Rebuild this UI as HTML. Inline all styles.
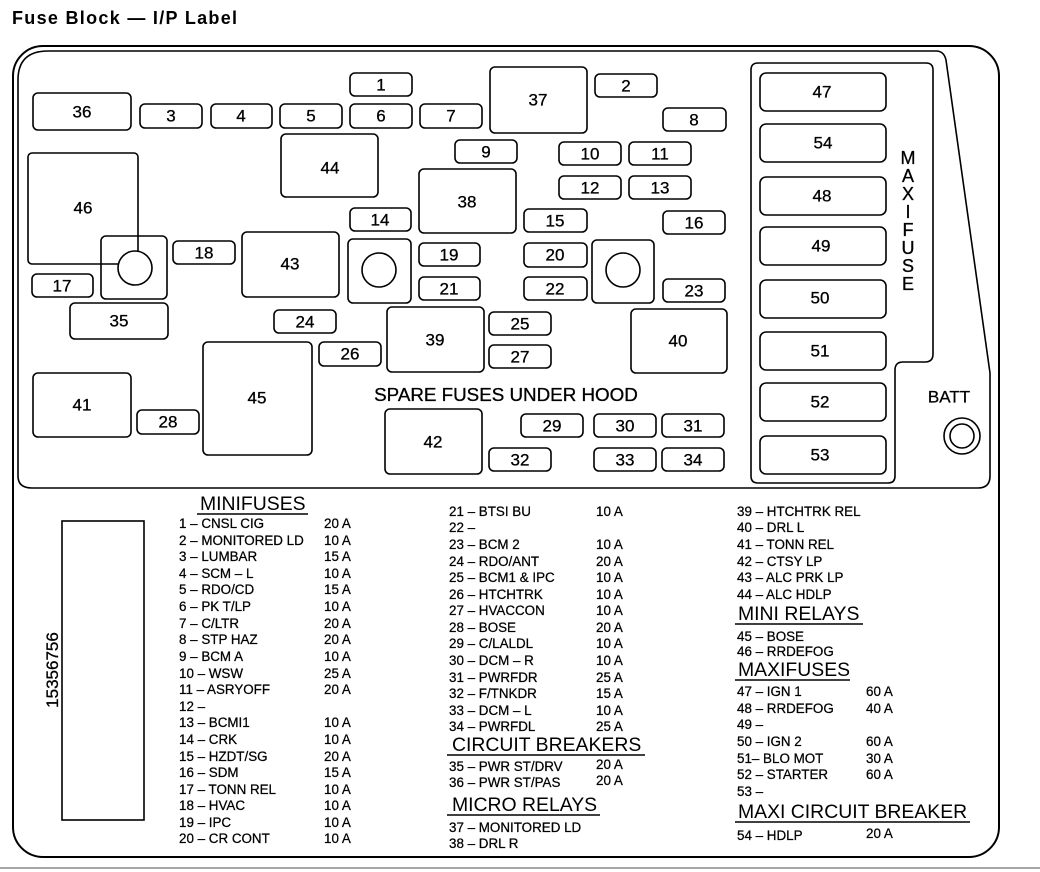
<!DOCTYPE html>
<html><head><meta charset="utf-8"><style>
html,body{margin:0;padding:0;background:#fff;}
svg{display:block;font-family:"Liberation Sans",Arial,sans-serif;}
.b{fill:#fff;stroke:#000;stroke-width:1.6;}
.n{font-size:17px;text-anchor:middle;dominant-baseline:central;stroke:#000;stroke-width:0.3;}
.l{font-size:13.4px;stroke:#000;stroke-width:0.25;}
.h{font-size:19.4px;}
</style></head><body>
<svg width="1040" height="872" viewBox="0 0 1040 872" xmlns="http://www.w3.org/2000/svg">
<text x="12" y="24" font-size="18" font-weight="bold" letter-spacing="1.3">Fuse Block — I/P Label</text>
<rect x="13" y="46" width="986" height="811" rx="30" fill="none" stroke="#000" stroke-width="2"/>
<path d="M18,476 L18,80 Q18,51 48,51 L936,51 Q944,51 946,60 L990,373 L990,476 Q990,488 978,488 L32,488 Q18,488 18,476 Z" fill="none" stroke="#000" stroke-width="1.6"/>
<line x1="0" y1="868" x2="1040" y2="868" stroke="#888" stroke-width="1.5"/>
<g class="b">
<rect x="33" y="93" width="98" height="37" rx="5"/>
<rect x="140" y="104" width="62" height="24" rx="5"/>
<rect x="211" y="104" width="61" height="24" rx="5"/>
<rect x="280" y="104" width="62" height="24" rx="5"/>
<rect x="350" y="104" width="62" height="24" rx="5"/>
<rect x="350" y="73" width="62" height="23" rx="5"/>
<rect x="420" y="104" width="62" height="24" rx="5"/>
<rect x="281" y="134" width="97" height="63" rx="5"/>
<rect x="101" y="236" width="66" height="63" rx="5"/>
<rect x="28" y="153" width="110" height="111" rx="4" fill="none"/>
<rect x="32" y="274" width="61" height="23" rx="5"/>
<rect x="70" y="303" width="98" height="36" rx="5"/>
<rect x="173" y="241" width="62" height="23" rx="5"/>
<rect x="242" y="232" width="97" height="65" rx="5"/>
<rect x="350" y="208" width="61" height="23" rx="5"/>
<rect x="455" y="140" width="62" height="23" rx="5"/>
<rect x="419" y="169" width="97" height="64" rx="5"/>
<rect x="348" y="239" width="63" height="64" rx="5"/>
<rect x="419" y="243" width="61" height="23" rx="5"/>
<rect x="419" y="277" width="61" height="23" rx="5"/>
<rect x="274" y="310" width="62" height="23" rx="5"/>
<rect x="387" y="307" width="97" height="65" rx="5"/>
<rect x="489" y="312" width="62" height="23" rx="5"/>
<rect x="489" y="345" width="62" height="23" rx="5"/>
<rect x="319" y="342" width="62" height="24" rx="5"/>
<rect x="203" y="342" width="109" height="113" rx="5"/>
<rect x="33" y="373" width="98" height="64" rx="5"/>
<rect x="137" y="410" width="62" height="24" rx="5"/>
<rect x="490" y="67" width="97" height="66" rx="5"/>
<rect x="595" y="74" width="62" height="23" rx="5"/>
<rect x="663" y="108" width="63" height="23" rx="5"/>
<rect x="559" y="142" width="62" height="23" rx="5"/>
<rect x="629" y="142" width="62" height="23" rx="5"/>
<rect x="559" y="176" width="62" height="23" rx="5"/>
<rect x="629" y="176" width="62" height="23" rx="5"/>
<rect x="524" y="209" width="63" height="23" rx="5"/>
<rect x="663" y="211" width="62" height="23" rx="5"/>
<rect x="524" y="243" width="63" height="24" rx="5"/>
<rect x="524" y="277" width="63" height="23" rx="5"/>
<rect x="592" y="240" width="62" height="63" rx="5"/>
<rect x="663" y="279" width="62" height="23" rx="5"/>
<rect x="631" y="309" width="96" height="64" rx="5"/>
<rect x="385" y="409" width="97" height="65" rx="5"/>
<rect x="521" y="414" width="62" height="23" rx="5"/>
<rect x="594" y="414" width="62" height="23" rx="5"/>
<rect x="662" y="414" width="62" height="23" rx="5"/>
<rect x="489" y="448" width="62" height="23" rx="5"/>
<rect x="594" y="448" width="62" height="23" rx="5"/>
<rect x="662" y="448" width="62" height="23" rx="5"/>
<circle cx="135" cy="268" r="17"/>
<circle cx="379" cy="270" r="17"/>
<circle cx="623" cy="270" r="17"/>
<path d="M758,63 L926,63 Q933,63 933,70 L933,354 Q933,362 925,362 L903,362 Q895,362 895,370 L895,476 Q895,483 888,483 L758,483 Q751,483 751,476 L751,70 Q751,63 758,63 Z"/>
<rect x="760" y="73" width="126" height="38" rx="6"/>
<rect x="760" y="124" width="126" height="38" rx="6"/>
<rect x="760" y="177" width="126" height="38" rx="6"/>
<rect x="760" y="227" width="126" height="38" rx="6"/>
<rect x="760" y="280" width="126" height="38" rx="6"/>
<rect x="760" y="332" width="126" height="38" rx="6"/>
<rect x="760" y="383" width="126" height="38" rx="6"/>
<rect x="760" y="436" width="126" height="38" rx="6"/>
<circle cx="962" cy="436" r="18"/>
<circle cx="962" cy="436" r="12"/>
<rect x="62" y="521" width="82" height="299"/>
</g>
<g class="n">
<text x="82" y="112">36</text><text x="171" y="116">3</text><text x="241" y="116">4</text><text x="311" y="116">5</text><text x="381" y="116">6</text><text x="381" y="85">1</text><text x="451" y="116">7</text>
<text x="330" y="168">44</text><text x="83" y="208">46</text><text x="62" y="286">17</text><text x="119" y="321">35</text><text x="204" y="253">18</text><text x="290" y="264">43</text>
<text x="380" y="220">14</text><text x="486" y="152">9</text><text x="467" y="202">38</text><text x="449" y="255">19</text><text x="449" y="289">21</text><text x="305" y="322">24</text>
<text x="435" y="340">39</text><text x="520" y="324">25</text><text x="520" y="357">27</text><text x="350" y="354">26</text><text x="257" y="398">45</text><text x="82" y="405">41</text><text x="168" y="422">28</text>
<text x="538" y="100">37</text><text x="626" y="86">2</text><text x="694" y="120">8</text><text x="590" y="154">10</text><text x="660" y="154">11</text><text x="590" y="188">12</text><text x="660" y="188">13</text>
<text x="555" y="221">15</text><text x="694" y="223">16</text><text x="555" y="255">20</text><text x="555" y="289">22</text><text x="694" y="291">23</text><text x="678" y="341">40</text>
<text x="433" y="442">42</text><text x="552" y="426">29</text><text x="625" y="426">30</text><text x="693" y="426">31</text><text x="520" y="460">32</text><text x="625" y="460">33</text><text x="693" y="460">34</text>
<text x="822" y="92">47</text><text x="823" y="143">54</text><text x="822" y="196">48</text><text x="821" y="246">49</text><text x="820" y="298">50</text><text x="820" y="351">51</text><text x="820" y="402">52</text><text x="820" y="455">53</text>
<g font-size="18"><text x="908" y="158">M</text><text x="908" y="176">A</text><text x="908" y="194">X</text><text x="908" y="212">I</text><text x="908" y="230">F</text><text x="908" y="248">U</text><text x="908" y="266">S</text><text x="908" y="284">E</text></g>
<text x="949" y="397">BATT</text>
</g>
<text x="506" y="401" font-size="18.8" text-anchor="middle" stroke="#000" stroke-width="0.3">SPARE FUSES UNDER HOOD</text>
<text transform="translate(58,670) rotate(-90)" font-size="17" text-anchor="middle" stroke="#000" stroke-width="0.3">15356756</text>
<g class="h">
<text x="200" y="510">MINIFUSES</text><line x1="197" y1="514" x2="308" y2="514" stroke="#000" stroke-width="1.5"/>
<text x="452" y="751">CIRCUIT BREAKERS</text><line x1="447" y1="755" x2="645" y2="755" stroke="#000" stroke-width="1.5"/>
<text x="452" y="811">MICRO RELAYS</text><line x1="447" y1="815" x2="600" y2="815" stroke="#000" stroke-width="1.5"/>
<text x="738" y="620">MINI RELAYS</text><line x1="735" y1="624" x2="863" y2="624" stroke="#000" stroke-width="1.5"/>
<text x="738" y="676">MAXIFUSES</text><line x1="735" y1="680" x2="850" y2="680" stroke="#000" stroke-width="1.5"/>
<text x="738" y="818">MAXI CIRCUIT BREAKER</text><line x1="735" y1="822" x2="970" y2="822" stroke="#000" stroke-width="1.5"/>
</g>
<g class="l">
<text x="179" y="528">1 – CNSL CIG</text><text x="324" y="528">20 A</text>
<text x="179" y="545">2 – MONITORED LD</text><text x="324" y="545">10 A</text>
<text x="179" y="561">3 – LUMBAR</text><text x="324" y="561">15 A</text>
<text x="179" y="578">4 – SCM – L</text><text x="324" y="578">10 A</text>
<text x="179" y="594">5 – RDO/CD</text><text x="324" y="594">15 A</text>
<text x="179" y="611">6 – PK T/LP</text><text x="324" y="611">10 A</text>
<text x="179" y="628">7 – C/LTR</text><text x="324" y="628">20 A</text>
<text x="179" y="644">8 – STP HAZ</text><text x="324" y="644">20 A</text>
<text x="179" y="661">9 – BCM A</text><text x="324" y="661">10 A</text>
<text x="179" y="678">10 – WSW</text><text x="324" y="678">25 A</text>
<text x="179" y="694">11 – ASRYOFF</text><text x="324" y="694">20 A</text>
<text x="179" y="711">12 –</text>
<text x="179" y="727">13 – BCMI1</text><text x="324" y="727">10 A</text>
<text x="179" y="744">14 – CRK</text><text x="324" y="744">10 A</text>
<text x="179" y="761">15 – HZDT/SG</text><text x="324" y="761">20 A</text>
<text x="179" y="777">16 – SDM</text><text x="324" y="777">15 A</text>
<text x="179" y="794">17 – TONN REL</text><text x="324" y="794">10 A</text>
<text x="179" y="810">18 – HVAC</text><text x="324" y="810">10 A</text>
<text x="179" y="827">19 – IPC</text><text x="324" y="827">10 A</text>
<text x="179" y="843">20 – CR CONT</text><text x="324" y="843">10 A</text>

<text x="449" y="516">21 – BTSI BU</text><text x="596" y="516">10 A</text>
<text x="449" y="532">22 –</text>
<text x="449" y="549">23 – BCM 2</text><text x="596" y="549">10 A</text>
<text x="449" y="566">24 – RDO/ANT</text><text x="596" y="566">20 A</text>
<text x="449" y="582">25 – BCM1 &amp; IPC</text><text x="596" y="582">10 A</text>
<text x="449" y="599">26 – HTCHTRK</text><text x="596" y="599">10 A</text>
<text x="449" y="615">27 – HVACCON</text><text x="596" y="615">10 A</text>
<text x="449" y="632">28 – BOSE</text><text x="596" y="632">20 A</text>
<text x="449" y="648">29 – C/LALDL</text><text x="596" y="648">10 A</text>
<text x="449" y="665">30 – DCM – R</text><text x="596" y="665">10 A</text>
<text x="449" y="682">31 – PWRFDR</text><text x="596" y="682">25 A</text>
<text x="449" y="698">32 – F/TNKDR</text><text x="596" y="698">15 A</text>
<text x="449" y="715">33 – DCM – L</text><text x="596" y="715">10 A</text>
<text x="449" y="731">34 – PWRFDL</text><text x="596" y="731">25 A</text>
<text x="449" y="771">35 – PWR ST/DRV</text><text x="596" y="769">20 A</text>
<text x="449" y="787">36 – PWR ST/PAS</text><text x="596" y="785">20 A</text>
<text x="449" y="832">37 – MONITORED LD</text>
<text x="449" y="848">38 – DRL R</text>

<text x="737" y="516">39 – HTCHTRK REL</text>
<text x="737" y="532">40 – DRL L</text>
<text x="737" y="549">41 – TONN REL</text>
<text x="737" y="566">42 – CTSY LP</text>
<text x="737" y="582">43 – ALC PRK LP</text>
<text x="737" y="599">44 – ALC HDLP</text>
<text x="737" y="641">45 – BOSE</text>
<text x="737" y="656">46 – RRDEFOG</text>
<text x="737" y="696">47 – IGN 1</text><text x="866" y="696">60 A</text>
<text x="737" y="713">48 – RRDEFOG</text><text x="866" y="713">40 A</text>
<text x="737" y="729">49 –</text>
<text x="737" y="746">50 – IGN 2</text><text x="866" y="746">60 A</text>
<text x="737" y="763">51– BLO MOT</text><text x="866" y="763">30 A</text>
<text x="737" y="779">52 – STARTER</text><text x="866" y="779">60 A</text>
<text x="737" y="796">53 –</text>
<text x="737" y="840">54 – HDLP</text><text x="866" y="838">20 A</text>
</g>
</svg>
</body></html>
